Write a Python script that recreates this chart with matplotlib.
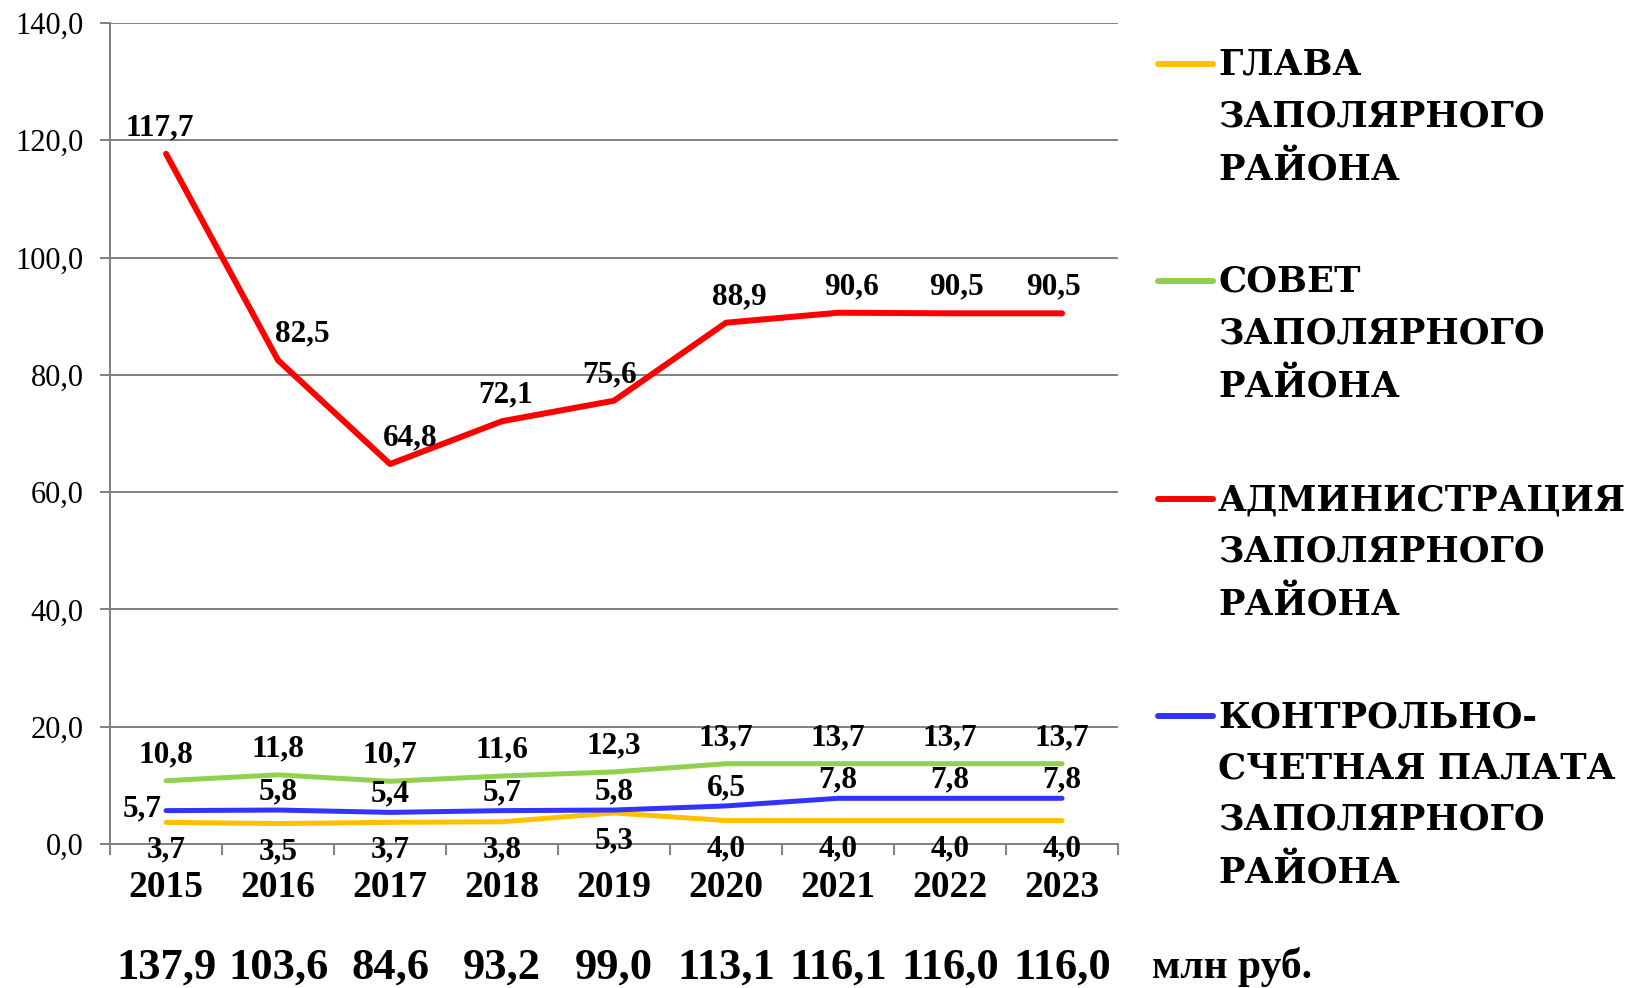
import matplotlib.pyplot as plt
import matplotlib.transforms as mtransforms
from matplotlib.lines import Line2D
import numpy as np

# --- Data ---
years = ['2015', '2016', '2017', '2018', '2019', '2020', '2021', '2022', '2023']
glava = [3.7, 3.5, 3.7, 3.8, 5.3, 4.0, 4.0, 4.0, 4.0]
sovet = [10.8, 11.8, 10.7, 11.6, 12.3, 13.7, 13.7, 13.7, 13.7]
admin = [117.7, 82.5, 64.8, 72.1, 75.6, 88.9, 90.6, 90.5, 90.5]
ksp = [5.7, 5.8, 5.4, 5.7, 5.8, 6.5, 7.8, 7.8, 7.8]
totals = [137.9, 103.6, 84.6, 93.2, 99.0, 113.1, 116.1, 116.0, 116.0]

names = ['ГЛАВА\nЗАПОЛЯРНОГО\nРАЙОНА',
         'СОВЕТ\nЗАПОЛЯРНОГО\nРАЙОНА',
         'АДМИНИСТРАЦИЯ\nЗАПОЛЯРНОГО\nРАЙОНА',
         'КОНТРОЛЬНО-\nСЧЕТНАЯ ПАЛАТА\nЗАПОЛЯРНОГО\nРАЙОНА']
unit = 'млн руб.'


def fmt(v):
    return f'{v:.1f}'.replace('.', ',')


plt.rcParams['font.family'] = ['Liberation Serif', 'DejaVu Serif']

fig = plt.figure(figsize=(16.35, 9.88), dpi=100)
ax = fig.add_axes([0.0673, 0.1457, 0.6165, 0.831])

x = np.arange(len(years))
series = [
    (glava, '#FFC000', 3.6, -28),
    (sovet, '#92D050', 3.6, 26),
    (admin, '#FF0000', 4.3, 26),
    (ksp, '#3333FF', 3.6, 18),
]
# small horizontal shifts for the red labels (px), as placed in the original
red_dx = [-6, 24, 20, 4, -4, 13, 13, 6, -9]

for vals, col, lw, dy in series:
    ax.plot(x, vals, color=col, lw=lw, solid_capstyle='round', zorder=3)
    for i, v in enumerate(vals):
        dx = 0
        if vals is admin:
            dx = red_dx[i]
        if vals is ksp and i == 0:
            dx, dy2 = -24, 2
        else:
            dy2 = dy
        ax.annotate(fmt(v), (i, v), xytext=(dx * 0.72, dy2 * 0.72),
                    textcoords='offset points', ha='center', va='center',
                    fontsize=22.5, fontweight='bold', zorder=4)

ax.set_xlim(-0.5, len(years) - 0.5)
ax.set_ylim(0, 140)
ax.set_yticks(np.arange(0, 141, 20))
ax.set_yticklabels([fmt(v) for v in np.arange(0, 141, 20)], fontsize=22)
ax.grid(axis='y', color='#808080', lw=1.4)
ax.set_axisbelow(True)

ax.set_xticks(x)
ax.set_xticklabels(years, fontsize=27, fontweight='bold')
ax.set_xticks(np.arange(-0.5, len(years)), minor=True)
ax.tick_params(axis='x', which='major', length=0, pad=19)
ax.tick_params(axis='x', which='minor', length=8, width=1.4, color='#808080')
ax.tick_params(axis='y', length=7, width=1.4, color='#808080', pad=12)

for s in ['top', 'right']:
    ax.spines[s].set_visible(False)
for s in ['left', 'bottom']:
    ax.spines[s].set_color('#808080')
    ax.spines[s].set_linewidth(1.4)

# totals row under the years
trans = mtransforms.blended_transform_factory(ax.transData, fig.transFigure)
for i, t in enumerate(totals):
    ax.text(i, 0.021, fmt(t), transform=trans, ha='center', va='center',
            fontsize=32, fontweight='bold')
fig.text(1152 / 1635, 0.021, unit, ha='left', va='center',
         fontsize=30, fontweight='bold')

# legend drawn by hand
leg_y = [64, 281, 499, 716]
for (vals, col, lw, dy), name, yy in zip(series, names, leg_y):
    yf = 1 - yy / 988
    fig.add_artist(Line2D([1158 / 1635, 1213 / 1635], [yf, yf], color=col,
                          lw=4.3, solid_capstyle='round',
                          transform=fig.transFigure))
    fig.text(1218 / 1635, yf + 16 / 988, name, ha='left', va='top',
             fontsize=25.5, fontweight='bold', linespacing=1.63,
             family=['DejaVu Serif'])

fig.savefig('out.png', dpi=100)
